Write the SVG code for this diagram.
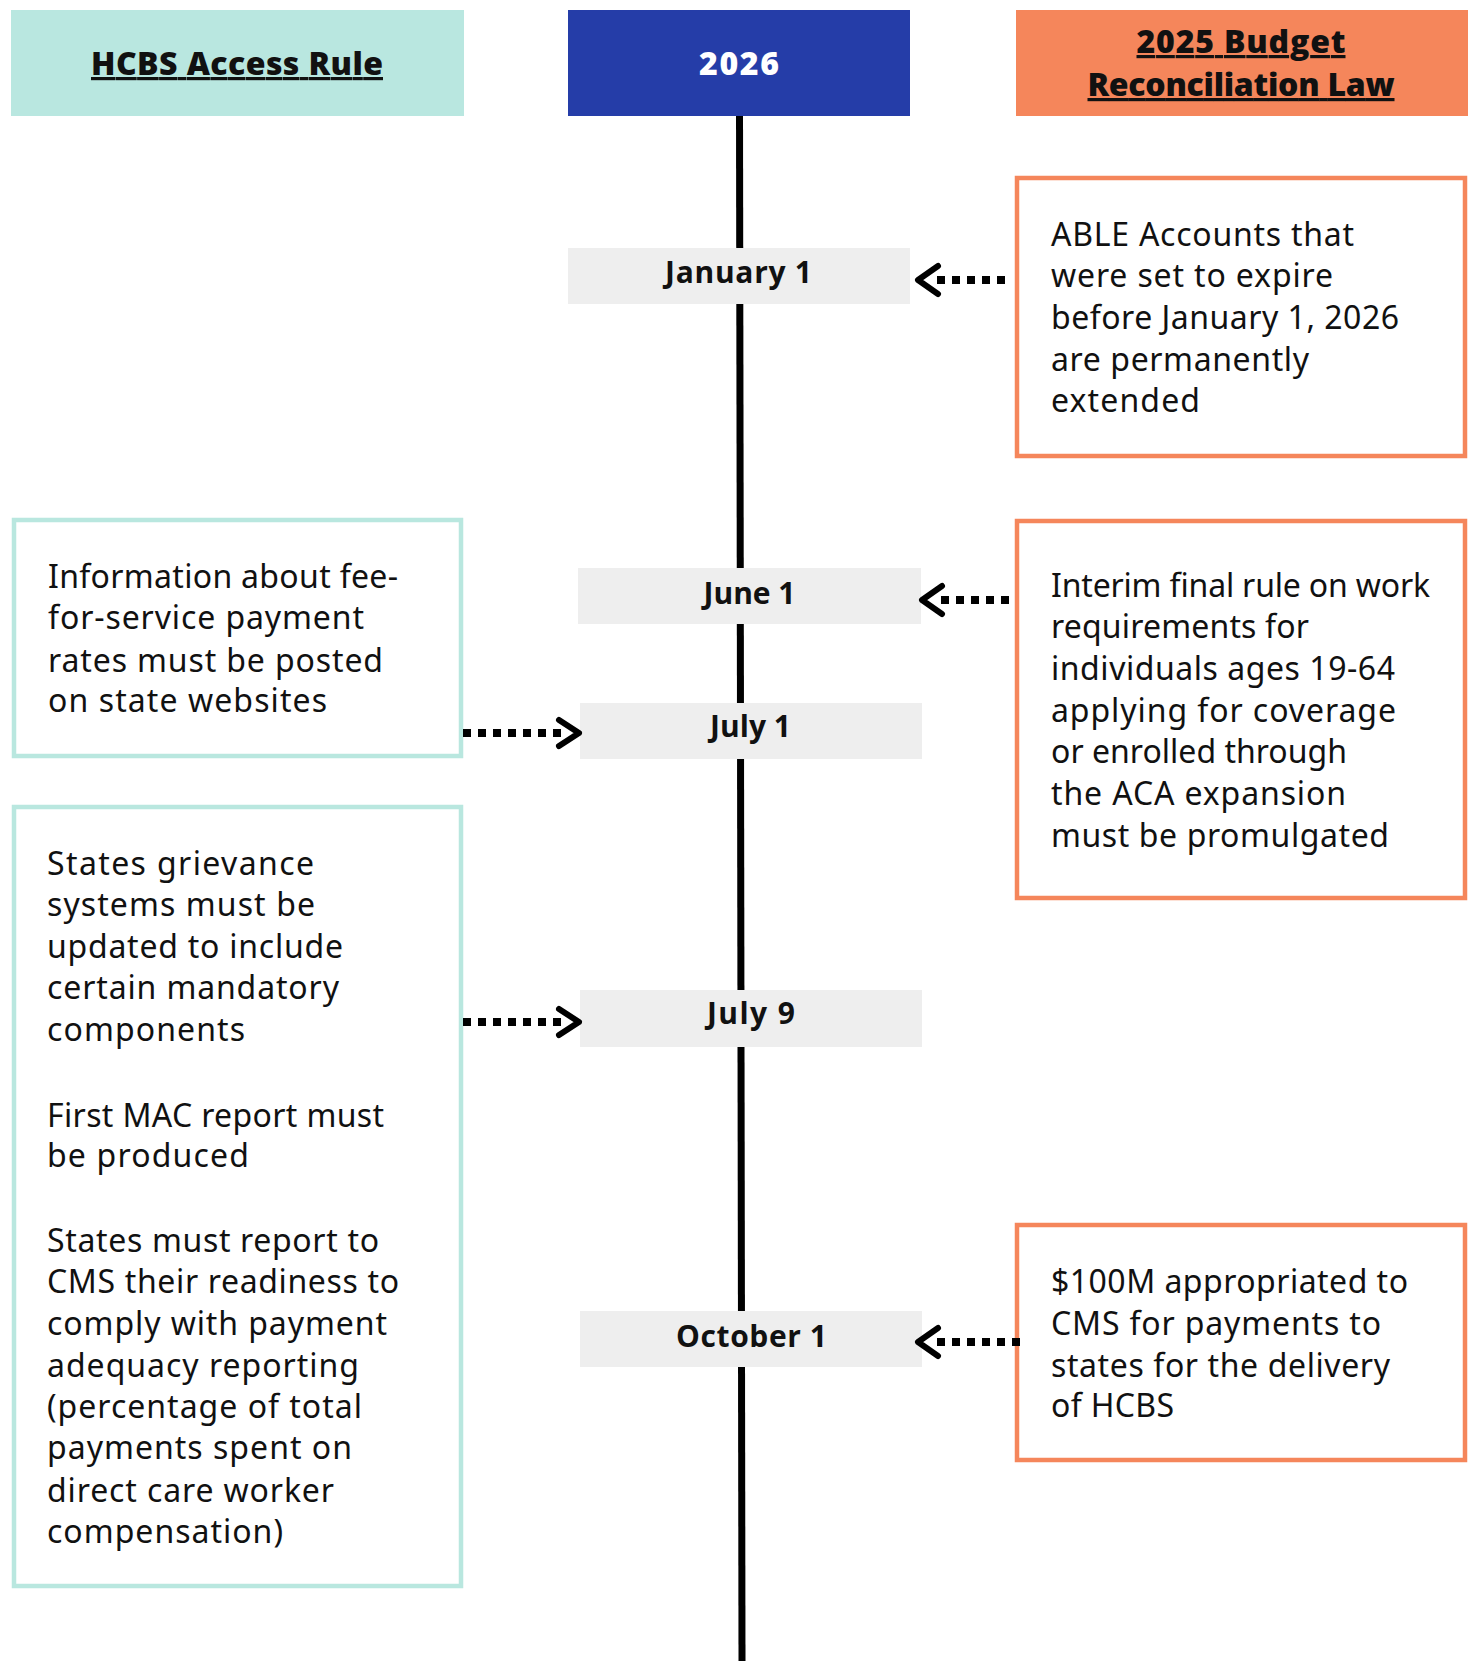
<svg xmlns="http://www.w3.org/2000/svg" width="1471" height="1661" viewBox="0 0 1471 1661">
<defs>
<style>
.body{font-family:"Noto Sans","Open Sans","Liberation Sans",sans-serif;font-size:32px;fill:#111;}
.date{font-family:"Open Sans","Noto Sans","Liberation Sans",sans-serif;font-size:30px;font-weight:700;fill:#111;text-anchor:middle;}
.head{font-family:"Open Sans","Noto Sans","Liberation Sans",sans-serif;font-size:32px;font-weight:800;text-anchor:middle;}
.datebox{fill:#eeeeee;}
.cyanbox{fill:#ffffff;stroke:#b9e7df;stroke-width:4.5;}
.orangebox{fill:#ffffff;stroke:#f5865b;stroke-width:4.5;}
.dots{fill:none;stroke:#000;stroke-width:8;stroke-dasharray:8 7;}
.chev{fill:none;stroke:#000;stroke-width:6;stroke-linecap:round;stroke-linejoin:round;}
</style>
</defs>
<rect width="1471" height="1661" fill="#ffffff"/>

<g id="timeline-line">
<line x1="739.5" y1="110" x2="742" y2="1661" stroke="#000" stroke-width="7"/>
</g>

<g id="header-hcbs">
<rect x="11" y="10" width="453" height="106" fill="#b9e7e0"/>
<text class="head" x="237" y="75" fill="#111" text-decoration="underline" textLength="292">HCBS Access Rule</text>
</g>
<g id="header-2026">
<rect x="568" y="10" width="342" height="106" fill="#253da8"/>
<text class="head" x="739" y="75" fill="#ffffff" textLength="80">2026</text>
</g>
<g id="header-budget">
<rect x="1016" y="10" width="452" height="106" fill="#f5865b"/>
<text class="head" x="1241" y="53" fill="#111" text-decoration="underline" textLength="209">2025 Budget</text>
<text class="head" x="1241" y="96" fill="#111" text-decoration="underline" textLength="307">Reconciliation Law</text>
</g>

<g id="date-jan1">
<rect class="datebox" x="568" y="248" width="342" height="56"/>
<text class="date" x="738.5" y="283" textLength="147">January 1</text>
</g>
<g id="date-jun1">
<rect class="datebox" x="578" y="568" width="343" height="56"/>
<text class="date" x="749.5" y="604" textLength="92">June 1</text>
</g>
<g id="date-jul1">
<rect class="datebox" x="580" y="703" width="342" height="56"/>
<text class="date" x="750.5" y="737" textLength="81">July 1</text>
</g>
<g id="date-jul9">
<rect class="datebox" x="580" y="990" width="342" height="57"/>
<text class="date" x="751" y="1024" textLength="88">July 9</text>
</g>
<g id="date-oct1">
<rect class="datebox" x="580" y="1311" width="342" height="56"/>
<text class="date" x="751.5" y="1347" textLength="151">October 1</text>
</g>

<g id="box-able">
<rect class="orangebox" x="1017" y="178" width="448" height="278"/>
<text class="body" x="1051" y="246" textLength="303">ABLE Accounts that</text>
<text class="body" x="1051" y="287" textLength="282">were set to expire</text>
<text class="body" x="1051" y="329" textLength="348">before January 1, 2026</text>
<text class="body" x="1051" y="371" textLength="258">are permanently</text>
<text class="body" x="1051" y="412" textLength="149">extended</text>
</g>

<g id="box-interim">
<rect class="orangebox" x="1017" y="521" width="448" height="377"/>
<text class="body" x="1051" y="597" textLength="379">Interim final rule on work</text>
<text class="body" x="1051" y="638" textLength="258">requirements for</text>
<text class="body" x="1051" y="680" textLength="344">individuals ages 19-64</text>
<text class="body" x="1051" y="722" textLength="345">applying for coverage</text>
<text class="body" x="1051" y="763" textLength="296">or enrolled through</text>
<text class="body" x="1051" y="805" textLength="295">the ACA expansion</text>
<text class="body" x="1051" y="847" textLength="338">must be promulgated</text>
</g>

<g id="box-100m">
<rect class="orangebox" x="1017" y="1225" width="448" height="235"/>
<text class="body" x="1051" y="1293" textLength="357">$100M appropriated to</text>
<text class="body" x="1051" y="1335" textLength="330">CMS for payments to</text>
<text class="body" x="1051" y="1377" textLength="339">states for the delivery</text>
<text class="body" x="1051" y="1417" textLength="123">of HCBS</text>
</g>

<g id="box-rates">
<rect class="cyanbox" x="14" y="520" width="447" height="236"/>
<text class="body" x="48" y="588" textLength="350">Information about fee-</text>
<text class="body" x="48" y="629" textLength="316">for-service payment</text>
<text class="body" x="48" y="672" textLength="335">rates must be posted</text>
<text class="body" x="48" y="712" textLength="279">on state websites</text>
</g>

<g id="box-grievance">
<rect class="cyanbox" x="14" y="807" width="447" height="779"/>
<text class="body" x="47" y="875" textLength="267">States grievance</text>
<text class="body" x="47" y="916" textLength="268">systems must be</text>
<text class="body" x="47" y="958" textLength="296">updated to include</text>
<text class="body" x="47" y="999" textLength="292">certain mandatory</text>
<text class="body" x="47" y="1041" textLength="198">components</text>
<text class="body" x="47" y="1127" textLength="337">First MAC report must</text>
<text class="body" x="47" y="1167" textLength="202">be produced</text>
<text class="body" x="47" y="1252" textLength="332">States must report to</text>
<text class="body" x="47" y="1293" textLength="352">CMS their readiness to</text>
<text class="body" x="47" y="1335" textLength="340">comply with payment</text>
<text class="body" x="47" y="1377" textLength="312">adequacy reporting</text>
<text class="body" x="47" y="1418" textLength="315">(percentage of total</text>
<text class="body" x="47" y="1459" textLength="305">payments spent on</text>
<text class="body" x="47" y="1502" textLength="287">direct care worker</text>
<text class="body" x="47" y="1543" textLength="236">compensation)</text>
</g>

<g id="connectors">
<line class="dots" x1="937" y1="280" x2="1012" y2="280"/>
<polyline class="chev" points="938,266 918,280 938,294"/>

<line class="dots" x1="941" y1="600" x2="1015" y2="600"/>
<polyline class="chev" points="942,586 922,600 942,614"/>

<line class="dots" x1="463" y1="733" x2="567" y2="733"/>
<polyline class="chev" points="559,720 579,733 559,746"/>

<line class="dots" x1="463" y1="1022" x2="567" y2="1022"/>
<polyline class="chev" points="559,1009 579,1022 559,1035"/>

<line class="dots" x1="937" y1="1342" x2="1024" y2="1342"/>
<polyline class="chev" points="938,1328 918,1342 938,1356"/>
</g>
</svg>
